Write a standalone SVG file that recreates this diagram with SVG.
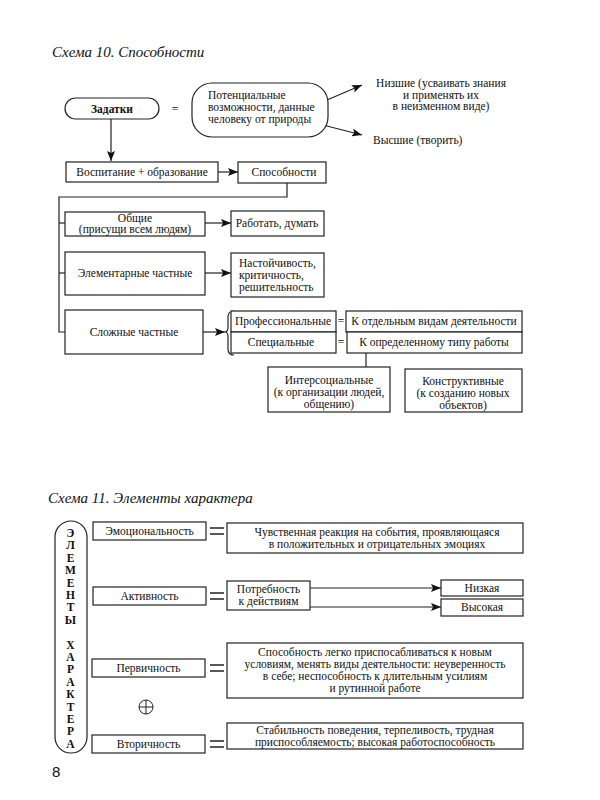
<svg xmlns="http://www.w3.org/2000/svg" width="600" height="800" viewBox="0 0 600 800">
<defs>
<marker id="ah" viewBox="0 0 10 8" refX="10" refY="4" markerWidth="10" markerHeight="8" markerUnits="userSpaceOnUse" orient="auto">
<path d="M0,0 L10,4 L0,8 L2,4 Z" fill="#111"/>
</marker>
</defs>
<style>
.b{fill:#fff;stroke:#222;stroke-width:1.2}
.t{font-family:"Liberation Serif","DejaVu Serif",serif;font-size:11.5px;fill:#111}
.s{font-family:"Liberation Serif","DejaVu Serif",serif;font-size:11.5px;fill:#111}
.c{text-anchor:middle}
.ti{font-family:"Liberation Serif","DejaVu Serif",serif;font-style:italic;font-size:15px;fill:#111}
.ln{fill:none;stroke:#222;stroke-width:1.2}
.ar{fill:none;stroke:#222;stroke-width:1.2;marker-end:url(#ah)}
.eq{fill:none;stroke:#222;stroke-width:1.3}
.v{font-family:"Liberation Serif","DejaVu Serif",serif;font-weight:bold;font-size:11.5px;fill:#111;text-anchor:middle}
</style>
<rect width="600" height="800" fill="#fff"/>

<text class="ti" x="52" y="57">Схема 10. Способности</text>

<g id="connectors">
<line class="ar" x1="111" y1="119" x2="111" y2="161"/>
<line class="ar" x1="218" y1="172" x2="238" y2="172"/>
<polyline class="ln" points="287,183 287,197 59,197 59,332 65,332"/>
<line class="ln" x1="59" y1="223" x2="65" y2="223"/>
<line class="ln" x1="59" y1="273" x2="65" y2="273"/>
<line class="ar" x1="205" y1="223" x2="231" y2="223"/>
<line class="ar" x1="205" y1="273" x2="231" y2="273"/>
<line class="ar" x1="203" y1="332" x2="225" y2="332"/>
<line class="ar" x1="327" y1="100" x2="362" y2="85"/>
<line class="ar" x1="323" y1="125" x2="362" y2="135"/>
<line class="ln" x1="366" y1="353" x2="366" y2="367"/>
<path class="ln" d="M234,311 Q228,311 228,317 L228,327 Q228,332 225,332 Q228,332 228,337 L228,349 Q228,355 234,355"/>
<line class="ar" x1="310" y1="588" x2="441" y2="588"/>
<line class="ar" x1="310" y1="607" x2="441" y2="607"/>
</g>

<g id="zadatki">
<rect class="b" x="65" y="98" width="94" height="21" rx="10.5"/>
<text class="t c" x="112" y="113" font-weight="bold">Задатки</text>
</g>
<text class="t c" x="175" y="113">=</text>
<g id="potential">
<rect class="b" x="192" y="83" width="136" height="54" rx="20"/>
<text class="t" x="208" y="99">Потенциальные</text>
<text class="t" x="208" y="111">возможности, данные</text>
<text class="t" x="208" y="123">человеку от природы</text>
</g>
<g id="nizshie">
<text class="t c" x="441" y="87">Низшие (усваивать знания</text>
<text class="t c" x="441" y="99">и применять их</text>
<text class="t c" x="441" y="110">в неизменном виде)</text>
</g>
<g id="vysshie">
<text class="t" x="373" y="144">Высшие (творить)</text>
</g>
<g id="vospitanie">
<rect class="b" x="66" y="162" width="152" height="20"/>
<text class="t c" x="142" y="176">Воспитание + образование</text>
</g>
<g id="sposobnosti">
<rect class="b" x="238" y="162" width="88" height="21"/>
<text class="t c" x="284" y="176">Способности</text>
</g>
<g id="obshie">
<rect class="b" x="65" y="212" width="140" height="24"/>
<text class="t c" x="135" y="222">Общие</text>
<text class="t c" x="135" y="233">(присущи всем людям)</text>
</g>
<g id="rabotat">
<rect class="b" x="231" y="211" width="93" height="25"/>
<text class="t c" x="277" y="227">Работать, думать</text>
</g>
<g id="elementarnye">
<rect class="b" x="65" y="252" width="140" height="43"/>
<text class="t c" x="135" y="277">Элементарные частные</text>
</g>
<g id="nastoychivost">
<rect class="b" x="231" y="253" width="93" height="44"/>
<text class="t" x="239" y="267">Настойчивость,</text>
<text class="t" x="239" y="279">критичность,</text>
<text class="t" x="239" y="291">решительность</text>
</g>
<g id="slozhnye">
<rect class="b" x="65" y="310" width="138" height="44"/>
<text class="t c" x="134" y="336">Сложные частные</text>
</g>
<g id="professionalnye">
<rect class="b" x="231" y="311" width="105" height="21"/>
<text class="t c" x="283" y="325">Профессиональные</text>
</g>
<g id="specialnye">
<rect class="b" x="231" y="332" width="105" height="21"/>
<text class="t c" x="281" y="346">Специальные</text>
</g>
<text class="t c" x="341" y="325">=</text>
<text class="t c" x="341" y="346">=</text>
<g id="otdelnym">
<rect class="b" x="346" y="311" width="176" height="21"/>
<text class="t c" x="434" y="325">К отдельным видам деятельности</text>
</g>
<g id="opredelennomu">
<rect class="b" x="347" y="332" width="175" height="21"/>
<text class="t c" x="434" y="346">К определенному типу работы</text>
</g>
<g id="intersocialnye">
<rect class="b" x="268" y="367" width="122" height="45"/>
<text class="t c" x="329" y="384">Интерсоциальные</text>
<text class="t c" x="329" y="396">(к организации людей,</text>
<text class="t c" x="329" y="408">общению)</text>
</g>
<g id="konstruktivnye">
<rect class="b" x="405" y="369" width="117" height="43"/>
<text class="t c" x="463" y="385">Конструктивные</text>
<text class="t c" x="463" y="397">(к созданию новых</text>
<text class="t c" x="463" y="409">объектов)</text>
</g>

<text class="ti" x="48" y="503">Схема 11. Элементы характера</text>

<g id="elementy">
<rect class="b" x="55" y="521" width="32" height="232" rx="16"/>
<text class="v" x="70.5" y="537">Э</text>
<text class="v" x="70.5" y="549.4">Л</text>
<text class="v" x="70.5" y="561.8">Е</text>
<text class="v" x="70.5" y="574.2">М</text>
<text class="v" x="70.5" y="586.6">Е</text>
<text class="v" x="70.5" y="599">Н</text>
<text class="v" x="70.5" y="611.4">Т</text>
<text class="v" x="70.5" y="623.8">Ы</text>
<text class="v" x="70.5" y="648.6">Х</text>
<text class="v" x="70.5" y="661">А</text>
<text class="v" x="70.5" y="673.4">Р</text>
<text class="v" x="70.5" y="685.8">А</text>
<text class="v" x="70.5" y="698.2">К</text>
<text class="v" x="70.5" y="710.6">Т</text>
<text class="v" x="70.5" y="723">Е</text>
<text class="v" x="70.5" y="735.4">Р</text>
<text class="v" x="70.5" y="747.8">А</text>
</g>

<g id="emocionalnost">
<rect class="b" x="93" y="522" width="113" height="18"/>
<text class="s c" x="149.5" y="535">Эмоциональность</text>
</g>
<path class="eq" d="M210,528 H224 M210,534 H224"/>
<g id="chuvstvennaya">
<rect class="b" x="227" y="523" width="296" height="30"/>
<text class="s c" x="377" y="536">Чувственная реакция на события, проявляющаяся</text>
<text class="s c" x="377" y="548">в положительных и отрицательных эмоциях</text>
</g>
<g id="aktivnost">
<rect class="b" x="93" y="587" width="113" height="18"/>
<text class="s c" x="149.5" y="600">Активность</text>
</g>
<path class="eq" d="M210,593 H224 M210,599 H224"/>
<g id="potrebnost">
<rect class="b" x="227" y="581" width="83" height="29"/>
<text class="s c" x="268.5" y="593">Потребность</text>
<text class="s c" x="268.5" y="605">к действиям</text>
</g>
<g id="nizkaya">
<rect class="b" x="441" y="580" width="82" height="16"/>
<text class="s c" x="482" y="592">Низкая</text>
</g>
<g id="vysokaya">
<rect class="b" x="441" y="599" width="82" height="17"/>
<text class="s c" x="482" y="611">Высокая</text>
</g>
<g id="pervichnost">
<rect class="b" x="92" y="659" width="113" height="18"/>
<text class="s c" x="148.5" y="672">Первичность</text>
</g>
<path class="eq" d="M210,665 H224 M210,671 H224"/>
<g id="sposobnost-legko">
<rect class="b" x="227" y="643" width="296" height="55"/>
<text class="s c" x="375" y="656">Способность легко приспосабливаться к новым</text>
<text class="s c" x="375" y="668">условиям, менять виды деятельности: неуверенность</text>
<text class="s c" x="375" y="680">в себе; неспособность к длительным усилиям</text>
<text class="s c" x="375" y="692">и рутинной работе</text>
</g>
<g id="plus">
<circle cx="146" cy="707" r="7" fill="none" stroke="#222" stroke-width="1"/>
<path d="M139,707 H153 M146,700 V714" stroke="#222" stroke-width="1"/>
</g>
<g id="vtorichnost">
<rect class="b" x="92" y="735" width="113" height="18"/>
<text class="s c" x="148.5" y="748">Вторичность</text>
</g>
<path class="eq" d="M210,741 H224 M210,747 H224"/>
<g id="stabilnost">
<rect class="b" x="227" y="723" width="296" height="26"/>
<text class="s c" x="375" y="734">Стабильность поведения, терпеливость, трудная</text>
<text class="s c" x="375" y="746">приспособляемость; высокая работоспособность</text>
</g>
<text x="52" y="777" font-family="Liberation Sans, Arial, sans-serif" font-size="15" fill="#111">8</text>
</svg>
